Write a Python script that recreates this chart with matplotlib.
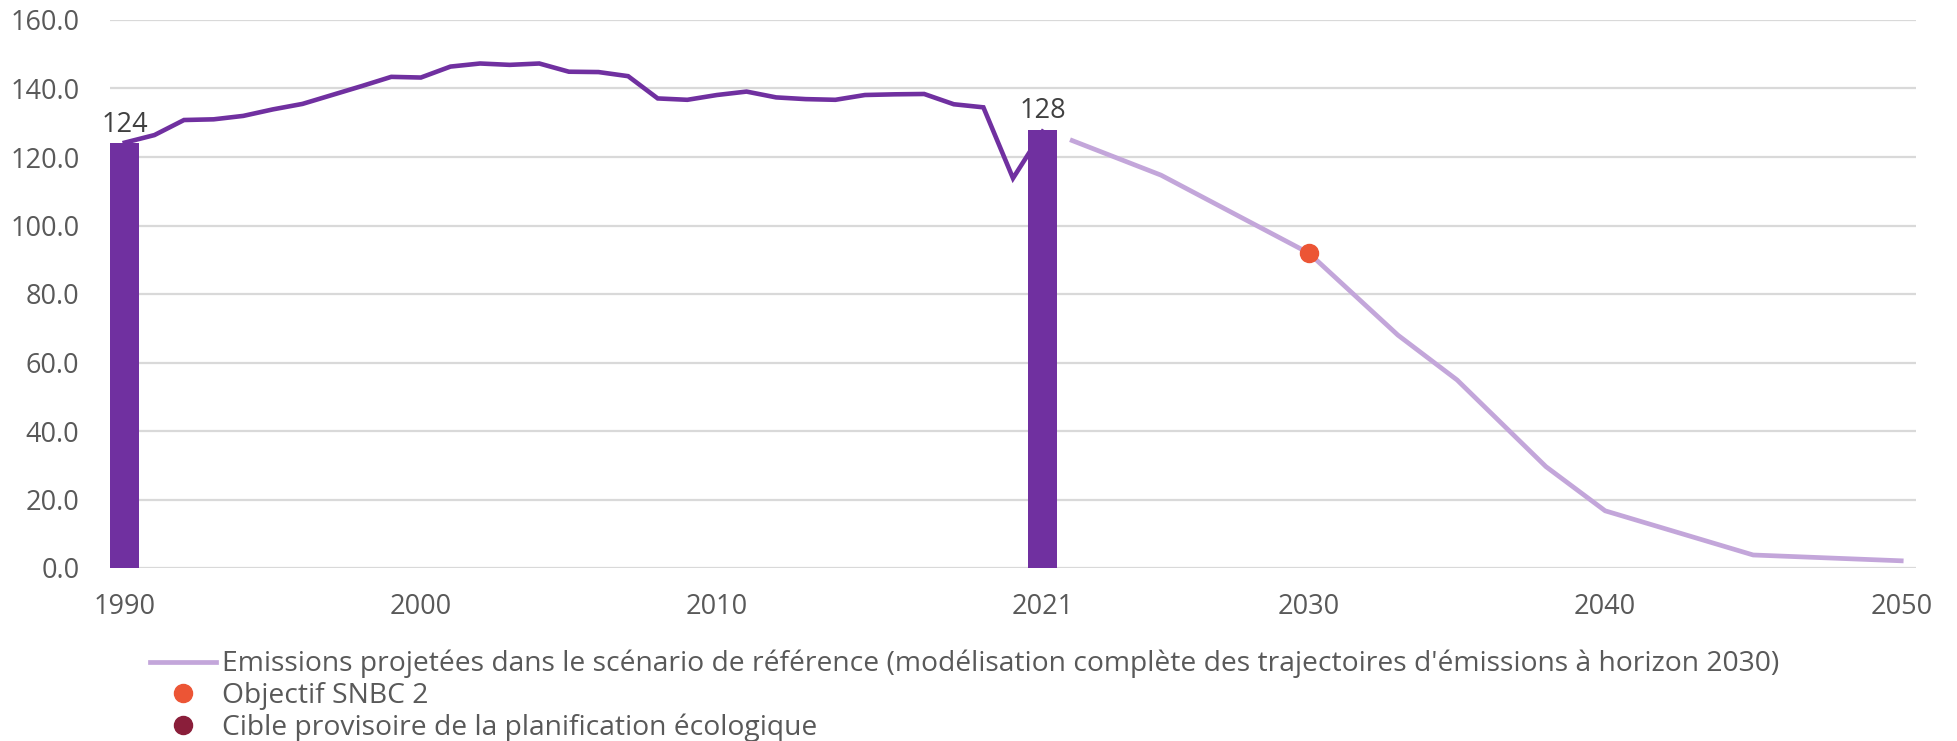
import numpy as np
import matplotlib.pyplot as plt
from matplotlib.lines import Line2D

plt.rcParams['font.family'] = ['Open Sans', 'DejaVu Sans']

# historical emissions 1990-2021
years_hist = list(range(1990, 2022))
hist = [124.2, 126.4, 130.8, 131.0, 132.0, 133.9, 135.5, 138.1, 140.7, 143.4,
        143.2, 146.4, 147.3, 146.9, 147.3, 144.9, 144.8, 143.6, 137.1, 136.7,
        138.1, 139.1, 137.4, 136.9, 136.7, 138.1, 138.3, 138.4, 135.4, 134.5,
        113.8, 127.4]

# reference years shown as bars
bar_years = [1990, 2021]
bar_values = [124, 128]
bar_labels = ['124', '128']

# projected emissions, reference scenario
proj_years = [2022, 2025, 2030, 2033, 2035, 2038, 2040, 2045, 2050]
proj_values = [124.8, 114.7, 91.9, 68.0, 54.9, 29.6, 16.7, 3.8, 2.1]

# SNBC 2 objective
snbc_years = [2030]
snbc_values = [91.9]

xticks = [1990, 2000, 2010, 2021, 2030, 2040, 2050]
yticks = np.arange(0, 160.1, 20)

purple = '#7030A0'
lavender = '#C3A6DA'
orange = '#EC5535'
darkred = '#8A1E3A'
grey = '#595959'

fig = plt.figure(figsize=(19.57, 7.41), dpi=100)
ax = fig.add_axes([110/1957, 1-568/741, (1916-110)/1957, (568-20)/741])

ax.set_xlim(1989.5, 2050.5)
ax.set_ylim(0, 160)

ax.bar(bar_years, bar_values, width=0.97, color=purple, zorder=3)
for x, v, t in zip(bar_years, bar_values, bar_labels):
    ax.annotate(t, (x, v), xytext=(0, 3), textcoords='offset points',
                ha='center', va='bottom', fontsize=19.5, color='#404040', zorder=5)

ax.plot(years_hist, hist, color=purple, linewidth=3.3, zorder=2, solid_joinstyle='miter')
ax.plot(proj_years, proj_values, color=lavender, linewidth=3.4, zorder=2)
ax.plot(snbc_years, snbc_values, 'o', color=orange, markersize=13, zorder=4)

ax.set_xticks(xticks)
ax.set_xticklabels([str(y) for y in xticks])
ax.set_yticks(yticks)
ax.set_yticklabels(['%.1f' % v for v in yticks])
ax.tick_params(axis='both', length=0, labelsize=19.5, colors=grey)
ax.tick_params(axis='x', pad=18)
ax.tick_params(axis='y', pad=22)

ax.grid(axis='y', color='#D9D9D9', linewidth=1.6, zorder=0)
ax.set_axisbelow(True)
for s in ax.spines.values():
    s.set_visible(False)

handles = [
    Line2D([], [], color=lavender, linewidth=3.4),
    Line2D([], [], marker='o', linestyle='none', color=orange, markersize=13),
    Line2D([], [], marker='o', linestyle='none', color=darkred, markersize=13),
]
labels = [
    "Emissions projetées dans le scénario de référence (modélisation complète des trajectoires d'émissions à horizon 2030)",
    'Objectif SNBC 2',
    'Cible provisoire de la planification écologique',
]
fig.legend(handles, labels, loc='upper left', bbox_to_anchor=(150/1957, 1-650/741),
           frameon=False, fontsize=20.3, labelcolor=grey, handlelength=2.35,
           handletextpad=0.2, labelspacing=0.12, borderpad=0, borderaxespad=0)

fig.savefig('out.png', dpi=100)
